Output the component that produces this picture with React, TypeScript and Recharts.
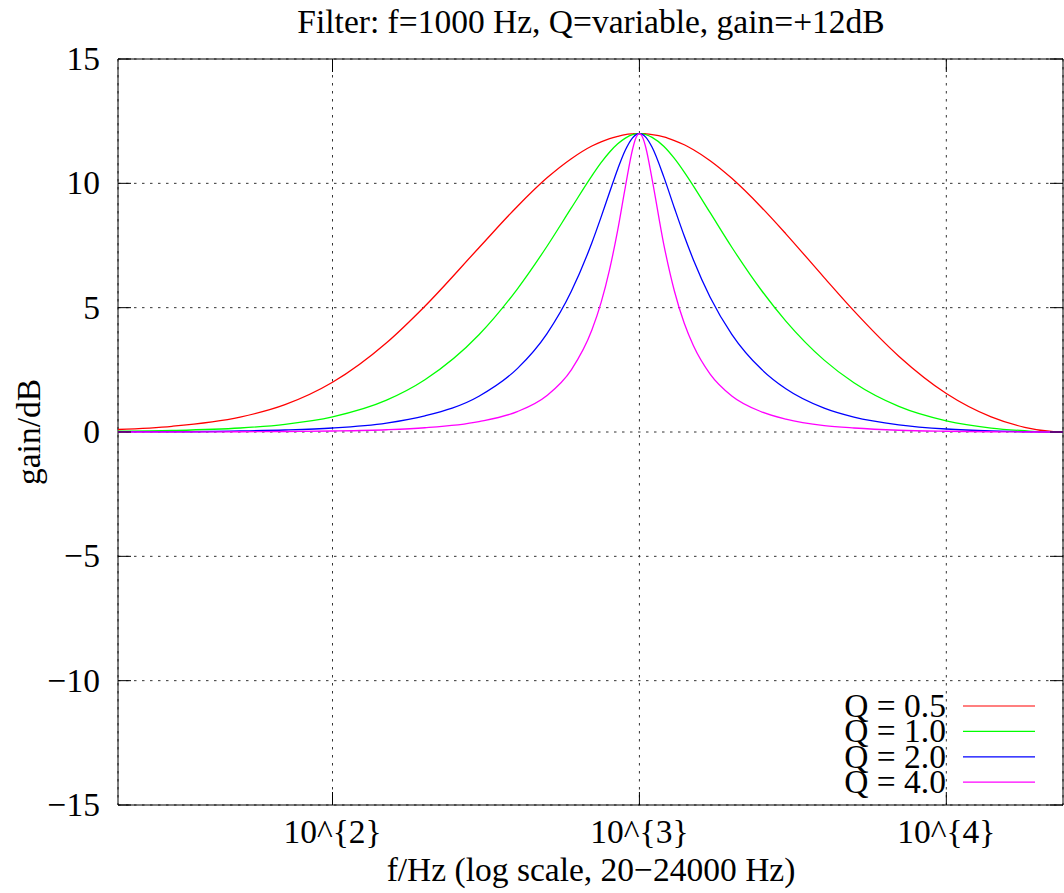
import { CartesianGrid, ComposedChart, Line, ReferenceArea, XAxis, YAxis } from "recharts";

// sample frequencies (Hz) and gain (dB)
const freqHz = [
  20, 30, 50, 70, 100, 150, 200, 300, 400, 500,
  600, 700, 750, 800, 850, 900, 950, 975, 1000, 1025,
  1050, 1100, 1200, 1300, 1400, 1500, 1700, 2000, 2500, 3000,
  4000, 5000, 7000, 10000, 14000, 18000, 22000, 24000,
];
const gainQ05 = [
  0.1, 0.23, 0.6, 1.1, 2.0, 3.59, 5.06, 7.41, 9.07, 10.22,
  10.99, 11.5, 11.67, 11.8, 11.89, 11.96, 11.99, 12.0, 12.0, 12.0,
  11.99, 11.96, 11.87, 11.72, 11.55, 11.35, 10.91, 10.2, 9.03, 7.97,
  6.21, 4.87, 3.05, 1.55, 0.61, 0.19, 0.02, 0,
];
const gainQ10 = [
  0.03, 0.06, 0.16, 0.31, 0.61, 1.28, 2.1, 3.91, 5.75, 7.47,
  9.01, 10.3, 10.83, 11.26, 11.59, 11.82, 11.96, 11.99, 12.0, 11.99,
  11.96, 11.85, 11.49, 11.0, 10.45, 9.89, 8.82, 7.43, 5.69, 4.46,
  2.89, 1.98, 1.03, 0.45, 0.16, 0.05, 0.0, 0,
];
const gainQ20 = [
  0.01, 0.01, 0.04, 0.08, 0.16, 0.36, 0.65, 1.44, 2.55, 3.96,
  5.66, 7.61, 8.64, 9.65, 10.58, 11.34, 11.83, 11.96, 12.0, 11.96,
  11.85, 11.45, 10.27, 9.01, 7.88, 6.92, 5.42, 3.93, 2.52, 1.74,
  0.96, 0.6, 0.29, 0.12, 0.04, 0.01, 0.0, 0,
];
const gainQ40 = [
  0.0, 0.0, 0.01, 0.02, 0.04, 0.09, 0.17, 0.42, 0.82, 1.47,
  2.5, 4.1, 5.2, 6.55, 8.13, 9.86, 11.37, 11.84, 12.0, 11.84,
  11.42, 10.16, 7.56, 5.67, 4.37, 3.47, 2.33, 1.45, 0.81, 0.52,
  0.26, 0.16, 0.07, 0.03, 0.01, 0.0, 0.0, 0,
];

const xTicks = [100, 1000, 10000];
const xTickLabels = ["10^{2}", "10^{3}", "10^{4}"];
const yTicks = [-15, -10, -5, 0, 5, 10, 15];

const series = [
  { key: "q05", name: "Q = 0.5", color: "#ff0000", values: gainQ05 },
  { key: "q10", name: "Q = 1.0", color: "#00ff00", values: gainQ10 },
  { key: "q20", name: "Q = 2.0", color: "#0000ff", values: gainQ20 },
  { key: "q40", name: "Q = 4.0", color: "#ff00ff", values: gainQ40 },
];

const rows = freqHz.map((f, i) => {
  const r: Record<string, number> = { f };
  series.forEach((s) => (r[s.key] = s.values[i]));
  return r;
});

const W = 1064;
const H = 893;
const PLOT = { left: 118, right: 1063, top: 59, bottom: 805 };
const FONT = '"Liberation Serif", "Times New Roman", serif';
const FS = 33.5;
const TICK = 13;

const XTick = (props: any) => {
  const { x, payload } = props;
  const i = xTicks.indexOf(payload.value);
  return (
    <g>
      <line x1={x} x2={x} y1={PLOT.bottom} y2={PLOT.bottom - TICK} stroke="#000" />
      <line x1={x} x2={x} y1={PLOT.top} y2={PLOT.top + TICK} stroke="#000" />
      <text x={x} y={843} textAnchor="middle" fontFamily={FONT} fontSize={FS} fill="#000">
        {xTickLabels[i]}
      </text>
    </g>
  );
};

const YTick = (props: any) => {
  const { y, payload } = props;
  const v = payload.value;
  const label = v < 0 ? "\u2212" + Math.abs(v) : String(v);
  return (
    <g>
      <line x1={PLOT.left} x2={PLOT.left + TICK} y1={y} y2={y} stroke="#000" />
      <line x1={PLOT.right - TICK} x2={PLOT.right} y1={y} y2={y} stroke="#000" />
      <text x={100} y={y + 11} textAnchor="end" fontFamily={FONT} fontSize={FS} fill="#000">
        {label}
      </text>
    </g>
  );
};

export default function App() {
  return (
    <div style={{ position: "absolute", left: 0, top: 0, width: W, height: H, background: "#fff" }}>
      <ComposedChart
        width={W}
        height={H}
        data={rows}
        margin={{ top: PLOT.top, right: W - PLOT.right, bottom: 0, left: 0 }}
      >
        <CartesianGrid stroke="#333" strokeDasharray="2.5 5.5" />
        <XAxis
          dataKey="f"
          type="number"
          scale="log"
          domain={[20, 24000]}
          allowDataOverflow
          ticks={xTicks}
          height={H - PLOT.bottom}
          tick={<XTick />}
          tickLine={false}
          axisLine={false}
        />
        <YAxis
          type="number"
          domain={[-15, 15]}
          ticks={yTicks}
          width={PLOT.left}
          tick={<YTick />}
          tickLine={false}
          axisLine={false}
        />
        {series.map((s) => (
          <Line
            key={s.key}
            type="monotone"
            dataKey={s.key}
            stroke={s.color}
            strokeWidth={1.3}
            dot={false}
            activeDot={false}
            isAnimationActive={false}
          />
        ))}
        <ReferenceArea x1={20} x2={24000} y1={-15} y2={15} fill="none" fillOpacity={0} stroke="#000" strokeWidth={1} />
      </ComposedChart>
      <svg
        width={W}
        height={H}
        style={{ position: "absolute", left: 0, top: 0, pointerEvents: "none" }}
        fontFamily={FONT}
        fontSize={FS}
      >
        <text x={591} y={33} textAnchor="middle">
          Filter: f=1000 Hz, Q=variable, gain=+12dB
        </text>
        <text x={591} y={881} textAnchor="middle">
          f/Hz (log scale, 20{"\u2212"}24000 Hz)
        </text>
        <text x={40} y={432} textAnchor="middle" transform="rotate(-90 40 432)">
          gain/dB
        </text>
        {series.map((s, i) => {
          const cy = 706 + i * 25.4;
          return (
            <g key={s.key}>
              <text x={946} y={cy + 11} textAnchor="end">
                {s.name}
              </text>
              <line x1={963} x2={1035} y1={cy} y2={cy} stroke={s.color} strokeWidth={1.2} />
            </g>
          );
        })}
      </svg>
    </div>
  );
}
